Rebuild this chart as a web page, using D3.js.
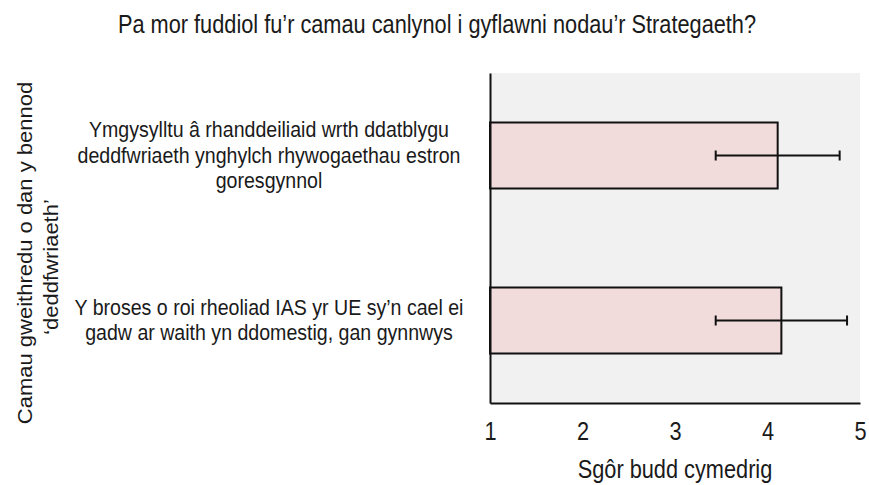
<!DOCTYPE html>
<html>
<head>
<meta charset="utf-8">
<script src="https://cdn.jsdelivr.net/npm/d3@7"></script>
<style>
body { margin: 0; background: #fff; }
text { font-family: "Liberation Sans", Arial, sans-serif; fill: #1a1a1a; }
</style>
</head>
<body>
<div id="chart"></div>
<script>
var TITLE = "Pa mor fuddiol fu’r camau canlynol i gyflawni nodau’r Strategaeth?";
var X_TITLE = "Sgôr budd cymedrig";
var Y_TITLE = ["Camau gweithredu o dan y bennod", "‘deddfwriaeth’"];

var categories = ["engage", "ias"];
var categoryLines = [
	["Ymgysylltu â rhanddeiliaid wrth ddatblygu", "deddfwriaeth ynghylch rhywogaethau estron", "goresgynnol"],
	["Y broses o roi rheoliad IAS yr UE sy’n cael ei", "gadw ar waith yn ddomestig, gan gynnwys"]
];
var means = [4.11, 4.15];
var errors = [0.67, 0.71];
var xTicks = [1, 2, 3, 4, 5];

var width = 869, height = 485;
var margin = {top: 73, right: 9, bottom: 82, left: 490};

var SQUISH = 0.87;

var svg = d3.select("#chart")
	.append("svg")
	.attr("width", width)
	.attr("height", height);

var xScale = d3.scaleLinear()
	.domain([1, 5])
	.range([margin.left, width - margin.right]);

var yScale = d3.scaleBand()
	.domain(categories)
	.range([margin.top, height - margin.bottom])
	.paddingInner(0.6)
	.paddingOuter(0.3);

var plotH = height - margin.bottom - margin.top;

// plot background
svg.append("rect")
	.attr("x", xScale(1))
	.attr("y", margin.top)
	.attr("width", xScale(5) - xScale(1))
	.attr("height", plotH)
	.style("fill", "#f1f1f1");

// bars
svg.selectAll(".bar")
	.data(means)
	.enter()
	.append("rect")
	.attr("class", "bar")
	.attr("x", xScale(1))
	.attr("y", function(d, i) { return yScale(categories[i]); })
	.attr("width", function(d) { return xScale(d) - xScale(1); })
	.attr("height", yScale.bandwidth())
	.style("fill", "#f2dcdb")
	.style("stroke", "#111")
	.style("stroke-width", 2);

// error bars
var errG = svg.selectAll(".err")
	.data(means)
	.enter()
	.append("g")
	.attr("class", "err")
	.attr("transform", function(d, i) { return "translate(0," + (yScale(categories[i]) + yScale.bandwidth() / 2) + ")"; })
	.style("stroke", "#111")
	.style("stroke-width", 2);

errG.append("line")
	.attr("x1", function(d, i) { return xScale(d - errors[i]); })
	.attr("x2", function(d, i) { return xScale(d + errors[i]); });

errG.append("line")
	.attr("x1", function(d, i) { return xScale(d - errors[i]); })
	.attr("x2", function(d, i) { return xScale(d - errors[i]); })
	.attr("y1", -5).attr("y2", 5);

errG.append("line")
	.attr("x1", function(d, i) { return xScale(d + errors[i]); })
	.attr("x2", function(d, i) { return xScale(d + errors[i]); })
	.attr("y1", -5).attr("y2", 5);

// x axis
var xAxis = svg.append("g")
	.attr("transform", "translate(0," + (height - margin.bottom) + ")")
	.call(d3.axisBottom(xScale).tickValues(xTicks).tickFormat(d3.format("d")).tickSize(0).tickPadding(19));

xAxis.select(".domain").style("stroke", "#111").style("stroke-width", 2);
xAxis.selectAll("text")
	.style("font-size", "25px")
	.style("fill", "#1a1a1a")
	.attr("transform", "scale(" + SQUISH + ",1)");

// y axis
var yAxis = svg.append("g")
	.attr("transform", "translate(" + margin.left + ",0)")
	.call(d3.axisLeft(yScale).tickSize(0).tickFormat(""));

yAxis.select(".domain").style("stroke", "#111").style("stroke-width", 2);

// category labels, multi-line
var labelX = 269, lineH = 25.5;
svg.selectAll(".catLabel")
	.data(categoryLines)
	.enter()
	.append("g")
	.attr("class", "catLabel")
	.attr("transform", function(d, i) { return "translate(" + labelX + "," + (yScale(categories[i]) + yScale.bandwidth() / 2) + ") scale(" + SQUISH + ",1)"; })
	.selectAll("text")
	.data(function(d) { return d; })
	.enter()
	.append("text")
	.attr("text-anchor", "middle")
	.attr("y", function(d, j, nodes) { return (j - (nodes.length - 1) / 2) * lineH + 7; })
	.style("font-size", "22.5px")
	.text(function(d) { return d; });

// title
svg.append("text")
	.attr("transform", "translate(437,33) scale(" + SQUISH + ",1)")
	.attr("text-anchor", "middle")
	.style("font-size", "25px")
	.text(TITLE);

// x axis title
svg.append("text")
	.attr("transform", "translate(" + ((xScale(1) + xScale(5)) / 2) + ",478) scale(" + SQUISH + ",1)")
	.attr("text-anchor", "middle")
	.style("font-size", "25px")
	.text(X_TITLE);

// y axis title, two lines rotated
svg.append("text")
	.attr("transform", "translate(32,253) rotate(-90) scale(1.1,1)")
	.attr("text-anchor", "middle")
	.style("font-size", "20px")
	.text(Y_TITLE[0]);

svg.append("text")
	.attr("transform", "translate(58,267) rotate(-90) scale(1.1,1)")
	.attr("text-anchor", "middle")
	.style("font-size", "20px")
	.text(Y_TITLE[1]);
</script>
</body>
</html>
